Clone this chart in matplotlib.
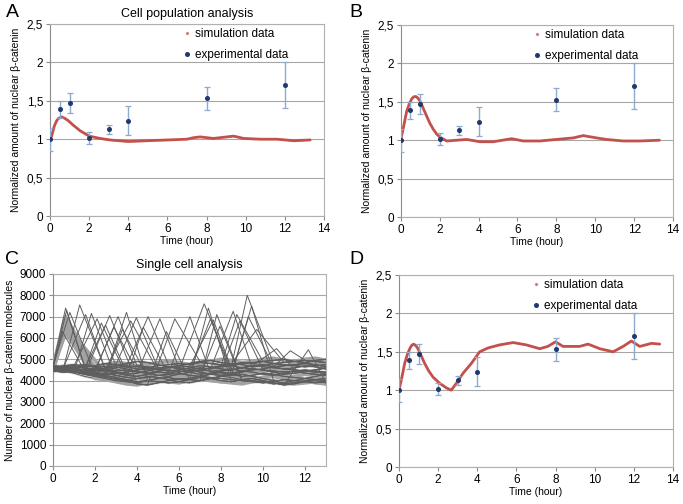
import numpy as np
import matplotlib
matplotlib.use("Agg")
import matplotlib.pyplot as plt
from matplotlib.ticker import FuncFormatter, MultipleLocator

plt.rcParams['font.family'] = ['Liberation Sans', 'DejaVu Sans']

# ---------------- experimental data (panels A, B, D) ----------------
exp_t = [0, 0.5, 1, 2, 3, 4, 8, 12]
exp_v = [1.00, 1.39, 1.47, 1.02, 1.13, 1.24, 1.53, 1.71]
exp_err = [0.15, 0.11, 0.13, 0.08, 0.06, 0.19, 0.145, 0.30]

# ---------------- simulation curves ----------------
simA_t = [0, 0.085, 0.22, 0.34, 0.43, 0.6, 0.77, 0.94, 1.2, 1.54, 2.0, 2.56, 3.07, 4.0, 4.95,
          6.0, 7.0, 7.34, 7.68, 8.36, 9.04, 9.39, 9.9, 10.75, 11.6, 12.46, 13.3]
simA_v = [1.0, 1.04, 1.17, 1.24, 1.27, 1.29, 1.27, 1.24, 1.18, 1.11, 1.04, 1.01, 0.99, 0.97, 0.98,
          0.99, 1.0, 1.02, 1.03, 1.01, 1.03, 1.04, 1.01, 1.0, 1.0, 0.98, 0.99]

simB_t = [0, 0.15, 0.31, 0.45, 0.57, 0.67, 0.77, 0.88, 0.99, 1.15, 1.34, 1.5, 1.68, 1.85, 2.02,
          2.36, 2.88, 3.39, 4.08, 4.76, 5.7, 6.3, 7.16, 8.0, 8.87, 9.38, 10.07, 10.58, 11.44,
          12.3, 13.3]
simB_v = [1.0, 1.18, 1.38, 1.48, 1.54, 1.565, 1.57, 1.55, 1.51, 1.42, 1.31, 1.22, 1.14, 1.08,
          1.04, 0.99, 1.0, 1.01, 0.98, 0.98, 1.02, 0.99, 0.99, 1.01, 1.03, 1.06, 1.03, 1.01, 0.99,
          0.99, 1.0]

simD_t = [0, 0.15, 0.29, 0.42, 0.55, 0.65, 0.75, 0.86, 0.97, 1.13, 1.31, 1.52, 1.74, 2.08, 2.42,
          2.67, 2.93, 3.27, 3.7, 4.12, 4.55, 5.14, 5.83, 6.5, 7.19, 7.6, 8.0, 8.38, 9.23, 9.66,
          10.26, 10.94, 11.45, 11.87, 12.3, 12.9, 13.32]
simD_v = [1.0, 1.17, 1.35, 1.46, 1.54, 1.585, 1.60, 1.58, 1.54, 1.45, 1.35, 1.25, 1.17, 1.09,
          1.03, 1.0, 1.09, 1.22, 1.35, 1.5, 1.55, 1.59, 1.62, 1.59, 1.54, 1.57, 1.63, 1.57, 1.57,
          1.6, 1.54, 1.5, 1.57, 1.64, 1.57, 1.61, 1.6]

# ---------------- single cell trajectories (panel C) ----------------
cell_t = [0, 0.5, 1, 1.5, 2, 2.5, 3, 3.5, 4, 4.5, 5, 5.5, 6, 6.5, 7, 7.5, 8, 8.5, 9, 9.5,
          10, 10.5, 11, 11.5, 12, 12.5, 13]
base_rows = [
    [4600,4550,4500,4480,4350,4250,4150,4050,3950,4000,4100,4150,4050,4100,4200,4150,4100,4050,4000,3950,3900,3950,4050,4000,3950,3900,3950],
    [4550,4600,4650,4600,4550,4500,4600,4700,4650,4600,4700,4750,4800,4750,4850,4800,4750,4700,4800,4850,4900,4800,4750,4700,4650,4700,4750],
    [4500,4450,4400,4350,4300,4200,4100,4000,3850,3800,3900,4000,4100,4050,4000,4100,4200,4250,4300,4200,4100,4000,3850,3900,4000,4050,4100],
    [4700,4650,4600,4700,4650,4550,4450,4500,4400,4350,4450,4500,4400,4500,4600,4550,4650,4700,4600,4550,4500,4450,4400,4450,4350,4300,4250],
    [4450,4500,4550,4500,4400,4300,4350,4250,4200,4300,4400,4350,4450,4400,4300,4350,4450,4500,4600,4700,4650,4600,4550,4500,4450,4500,4600],
    [4600,4700,4750,4650,4700,4800,4750,4650,4550,4500,4600,4650,4550,4450,4500,4600,4700,4750,4850,4800,4900,4950,5000,4900,4850,4950,5000],
    [4550,4500,4450,4300,4200,4100,4000,3950,3900,4000,3950,3900,3950,4050,4150,4100,4000,3950,4050,4100,4000,3900,3800,3850,3950,4000,3900],
    [4650,4600,4550,4500,4600,4500,4400,4300,4350,4450,4550,4650,4600,4550,4400,4300,4250,4300,4400,4500,4550,4650,4700,4750,4800,4750,4650],
    [4500,4550,4500,4450,4500,4600,4650,4550,4450,4350,4250,4200,4300,4400,4500,4450,4350,4300,4200,4250,4350,4300,4200,4150,4100,4200,4300],
    [4700,4600,4500,4400,4300,4350,4250,4150,4100,4150,4250,4300,4350,4250,4200,4300,4400,4350,4450,4550,4500,4400,4300,4350,4450,4400,4350],
    [4600,4650,4700,4750,4700,4650,4700,4800,4900,4850,4750,4650,4700,4800,4900,4950,4850,4800,4750,4650,4700,4800,4850,4900,4950,4900,4850],
    [4550,4500,4400,4350,4250,4150,4050,4000,4100,4200,4150,4050,3950,3900,4000,4100,4200,4150,4050,4000,3950,3850,3900,4000,4100,4050,4000],
    [4450,4400,4450,4550,4500,4450,4350,4400,4500,4600,4550,4450,4500,4600,4700,4650,4550,4500,4600,4700,4750,4650,4550,4600,4700,4650,4550],
    [4600,4550,4600,4500,4450,4400,4500,4600,4700,4650,4550,4600,4700,4650,4550,4450,4500,4550,4450,4400,4300,4250,4350,4450,4500,4450,4400],
    [4500,4450,4350,4200,4100,4050,3950,3850,3800,3900,4000,3950,3900,4000,4100,4050,3950,3900,3850,3950,4050,4000,3900,3850,3900,3950,3850],
    [4650,4700,4600,4550,4650,4750,4850,4800,4700,4750,4850,4900,4850,4750,4800,4900,5000,4950,4850,4900,5000,5050,4950,4900,5000,5050,4950],
    [4550,4600,4500,4400,4350,4450,4400,4300,4250,4350,4450,4400,4300,4250,4350,4450,4550,4500,4400,4350,4450,4550,4500,4400,4350,4300,4200],
    [4600,4500,4450,4500,4400,4250,4200,4300,4400,4500,4400,4300,4200,4300,4400,4500,4600,4650,4550,4450,4350,4200,4100,4200,4300,4250,4150],
    [4500,4550,4600,4650,4550,4450,4550,4650,4600,4500,4400,4450,4550,4650,4700,4600,4500,4550,4650,4750,4700,4600,4650,4750,4800,4700,4600],
    [4700,4650,4550,4450,4350,4200,4100,4150,4250,4200,4100,4000,4050,4150,4250,4350,4300,4200,4100,4050,4150,4250,4200,4100,4050,4150,4100],
    [4450,4500,4400,4300,4250,4300,4400,4450,4350,4250,4350,4500,4600,4550,4450,4600,4700,4650,4550,4650,4800,4750,4650,4800,4900,4850,4750],
    [4600,4550,4500,4450,4400,4350,4300,4200,4100,4050,3950,4050,4150,4200,4100,4000,3950,4050,4150,4100,4000,3900,3950,4050,4000,3900,3850],
]
# oscillating cells: peak time (h), peak value, baseline row
peak_t = [0.45, 0.6, 0.65, 0.8, 1.27, 1.55, 1.83, 2.1, 2.3, 2.5, 2.7, 2.9, 3.1, 3.3, 3.5, 3.7,
          3.97, 4.3, 4.53, 5.09, 5.4, 5.8, 6.52, 7.2, 7.4, 7.5, 7.63, 7.8, 7.95, 8.58, 8.75,
          8.9, 9.25, 9.3, 9.46, 9.7, 10.65, 11.3, 12.16]
peak_v = [6300, 7400, 7300, 7200, 7550, 7100, 7150, 6900, 6700, 6600, 7050, 6500, 7000, 6400,
          7200, 6800, 6950, 6500, 7000, 6900, 6300, 6900, 7000, 7600, 7400, 6900, 6850, 7100,
          6550, 7250, 7100, 6800, 8000, 7000, 7500, 6400, 5500, 5400, 5450]
peak_row = [0, 3, 5, 9, 1, 7, 2, 10, 4, 12, 6, 8, 13, 11, 0, 3, 5, 9, 1, 7, 2, 10, 4, 12, 6,
            8, 13, 11, 0, 3, 5, 9, 1, 7, 2, 10, 4, 12, 6]
# synchronized early bundle (lighter, thicker)
bundle_t = [0.5, 0.55, 0.6, 0.62, 0.65, 0.7, 0.58, 0.52]
bundle_v = [6600, 6900, 7000, 6750, 6800, 6500, 6300, 6450]
bundle_row = [16, 17, 18, 19, 20, 21, 14, 15]

RED = '#c4504c'
NAVY = '#1f3a6e'
EBAR = '#8eaacc'
GRID = '#a6a6a6'


def comma(x, pos):
    s = ('%g' % x)
    return s.replace('.', ',')


def style_axes(ax):
    ax.grid(axis='y', color=GRID, lw=0.8, zorder=0)
    ax.set_axisbelow(True)
    for s in ['top', 'right', 'bottom']:
        ax.spines[s].set_color('#b0b0b0')
    ax.spines['left'].set_color('#8c8c8c')
    ax.tick_params(axis='both', labelsize=8.5, length=3, color='#8c8c8c', pad=2)


def bead_panel(ax, st, sv):
    ax.plot(st, sv, color=RED, lw=2.0, solid_capstyle='round', solid_joinstyle='round', zorder=3)
    ax.errorbar(exp_t, exp_v, yerr=exp_err, fmt='none', ecolor=EBAR, elinewidth=1.0,
                capsize=2, capthick=0.9, zorder=4)
    ax.plot(exp_t, exp_v, 'o', color=NAVY, ms=2.6, zorder=5)
    ax.set_xlim(0, 14)
    ax.set_ylim(0, 2.5)
    ax.xaxis.set_major_locator(MultipleLocator(2))
    ax.yaxis.set_major_locator(MultipleLocator(0.5))
    ax.yaxis.set_major_formatter(FuncFormatter(comma))
    ax.set_xlabel('Time (hour)', fontsize=7.5, labelpad=1)
    ax.set_ylabel('Normalized amount of nuclear β-catenin', fontsize=7.5, labelpad=4)
    style_axes(ax)
    h1, = ax.plot([], [], 'o', color=RED, ms=1.4, alpha=0.6)
    h2, = ax.plot([], [], 'o', color=NAVY, ms=2.6)
    ax.legend([h1, h2], ['simulation data', 'experimental data'], loc='upper left',
              bbox_to_anchor=(0.46, 1.02), frameon=False, fontsize=8.5, handlelength=0.5,
              handletextpad=0.4, labelspacing=0.75, borderaxespad=0.3)


fig = plt.figure(figsize=(6.83, 5.04), dpi=100)

axA = fig.add_axes([0.0732, 0.5714, 0.401, 0.381])
bead_panel(axA, simA_t, simA_v)
axA.set_title('Cell population analysis', fontsize=9, pad=5)

axB = fig.add_axes([0.5867, 0.5694, 0.3987, 0.381])
bead_panel(axB, simB_t, simB_v)

axD = fig.add_axes([0.5842, 0.0734, 0.4012, 0.381])
bead_panel(axD, simD_t, simD_v)

# panel C
axC = fig.add_axes([0.0776, 0.0754, 0.3997, 0.381])
T = np.array(cell_t)


def cell_line(row, tp, vp, rw, fw):
    b = np.array(base_rows[row], dtype=float)
    before = T < tp - rw
    before[0] = True
    after = T > tp + fw
    x = np.concatenate([T[before], [tp], T[after]])
    y = np.concatenate([b[before], [vp], b[after]])
    return x, y


shades = ['#6e6e6e', '#8a8a8a', '#5a5a5a', '#9a9a9a', '#7a7a7a', '#a5a5a5']
for i, row in enumerate(base_rows):
    axC.plot(T, row, color='#a8a8a8', lw=2.0, alpha=0.45, zorder=2)
for i, row in enumerate(base_rows):
    axC.plot(T, row, color=shades[i % len(shades)], lw=0.7, zorder=2)
for i, (tp, vp, r) in enumerate(zip(bundle_t, bundle_v, bundle_row)):
    x, y = cell_line(r, tp, vp, 0.6, 1.3)
    axC.plot(x, y, color='#a2a2a2', lw=2.6, zorder=3)
for i, (tp, vp, r) in enumerate(zip(peak_t, peak_v, peak_row)):
    x, y = cell_line(r, tp, vp, 0.7, 0.8)
    axC.plot(x, y, color='#5e5e5e', lw=0.7, zorder=4)
axC.set_xlim(0, 13)
axC.set_ylim(0, 9000)
axC.xaxis.set_major_locator(MultipleLocator(2))
axC.yaxis.set_major_locator(MultipleLocator(1000))
axC.set_xlabel('Time (hour)', fontsize=7.5, labelpad=1)
axC.set_ylabel('Number of nuclear β-catenin molecules', fontsize=7.5, labelpad=3)
axC.set_title('Single cell analysis', fontsize=9, pad=4)
style_axes(axC)

# panel letters
fig.text(0.008, 0.992, 'A', fontsize=14, va='top', ha='left')
fig.text(0.512, 0.992, 'B', fontsize=14, va='top', ha='left')
fig.text(0.008, 0.502, 'C', fontsize=14, va='top', ha='left')
fig.text(0.512, 0.502, 'D', fontsize=14, va='top', ha='left')

fig.savefig('out.png', dpi=100)
